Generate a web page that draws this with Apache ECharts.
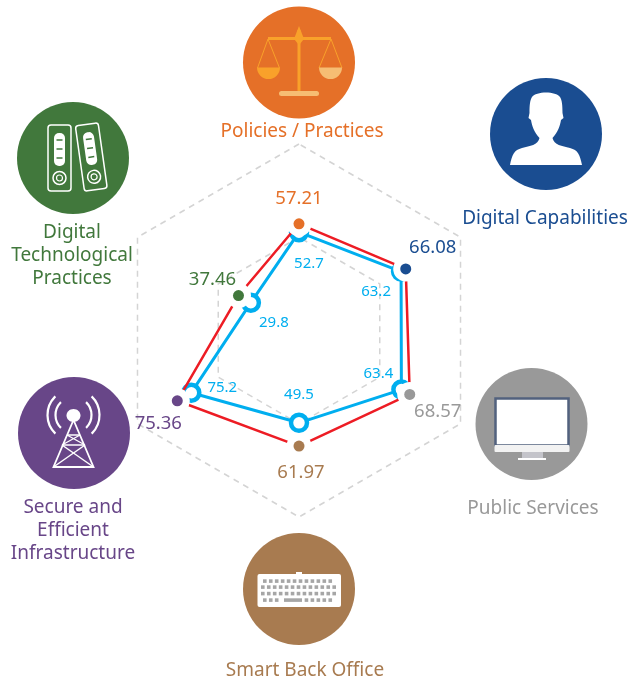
<!DOCTYPE html>
<html>
<head>
<meta charset="utf-8">
<style>
html,body{margin:0;padding:0;background:#fff}
#main{width:633px;height:677px}
</style>
<script src="https://cdn.jsdelivr.net/npm/echarts@6/dist/echarts.min.js"></script>
</head>
<body>
<div id="main"></div>
<script>
// counter clockwise from the top, the way radar lays out indicators
var categories = ['Policies / Practices', 'Digital Technological Practices', 'Secure and Efficient Infrastructure', 'Smart Back Office', 'Public Services', 'Digital Capabilities'];
var catColors = ['#e57028', '#41783c', '#684688', '#a87b50', '#999999', '#1a4d91'];
var redValues = [57.21, 37.46, 75.36, 61.97, 68.57, 66.08];
// the ring for 75.2 sits further in than its label says in the picture, so plotted value and label differ
var blueValues = [52.7, 29.8, 66.7, 49.5, 63.4, 63.2];
var blueLabels = ['52.7', '29.8', '75.2', '49.5', '63.4', '63.2'];
var redOffsets = [[0, -25], [-26, -16], [-19, 23], [2, 27], [28, 17], [27, -21]];
var blueOffsets = [[10, 32], [23, 20], [31, -5], [0, -28], [-23, -16], [-25, 20]];

var red = '#ed1c24', blue = '#00aeef';
var chartCenter = [299, 330.5], chartRadius = 186.5;

echarts.graphic.registerShape('personShape', echarts.graphic.extendPath('M510 165 C512 155 514 150 522 148 C530 146 538 145 539.5 138 C534 132 532 126 531 120 L528.5 118 L529.5 113 C529.5 105 530 100 532 97 C536 91 556 91 560 97 C562 100 562.5 105 562.5 113 L563.5 118 L561 120 C560 126 558 132 552.5 138 C554 145 562 146 570 148 C578 150 580 155 582 165 Z'));

// radar has no per vertex colour, so dots and labels go on a polar system laid over it
function polarPoint(v, i) {
    return [v, i * 360 / categories.length];
}
var haloData = redValues.map(polarPoint);
var dotData = redValues.map(function (v, i) {
    return {
        value: polarPoint(v, i),
        itemStyle: { color: catColors[i], opacity: 1 },
        label: {
            show: true, position: 'inside', offset: redOffsets[i],
            color: catColors[i], fontSize: 18.5, fontFamily: 'Noto Sans',
            formatter: function () { return v.toFixed(2); }
        }
    };
});
var blueLabelData = blueValues.map(function (v, i) {
    return {
        value: polarPoint(v, i),
        label: {
            show: true, position: 'inside', offset: blueOffsets[i],
            color: blue, fontSize: 15, fontFamily: 'Noto Sans',
            formatter: function () { return blueLabels[i]; }
        }
    };
});

function txt(lines, x, y, color) {
    return lines.map(function (s, i) {
        return { type: 'text', x: x, y: y + i * 23, z: 5, style: {
            text: s, fill: color, font: '19px "Noto Sans"', align: 'center', verticalAlign: 'middle'
        } };
    });
}
function disc(x, y, color) {
    return { type: 'circle', shape: { cx: x, cy: y, r: 56 }, style: { fill: color } };
}
function rect(x, y, w, h, fill, r) {
    return { type: 'rect', z: 3, shape: { x: x, y: y, width: w, height: h, r: r || 0 }, style: { fill: fill } };
}
function line(x1, y1, x2, y2, color, w) {
    return { type: 'line', z: 3, shape: { x1: x1, y1: y1, x2: x2, y2: y2 }, style: { stroke: color, lineWidth: w } };
}

function scaleIcon() {
    var a = '#f9a12a', b = '#f6bd73';
    return [
        line(299, 30, 299, 93, a, 3),
        line(268, 38.5, 331, 38.5, a, 3),
        { type: 'polygon', z: 3, shape: { points: [[299, 26], [304, 39], [299, 45], [294, 39]] }, style: { fill: a } },
        rect(279, 91, 40, 5, b, 2.5),
        line(268, 39, 257.5, 68, a, 1), line(268, 39, 279.5, 68, a, 1),
        line(331, 39, 319, 68, a, 1), line(331, 39, 342, 68, a, 1),
        { type: 'sector', z: 3, shape: { cx: 268.5, cy: 67.5, r: 11.5, startAngle: 0, endAngle: Math.PI }, style: { fill: a } },
        { type: 'sector', z: 3, shape: { cx: 330.5, cy: 67.5, r: 11.5, startAngle: 0, endAngle: Math.PI }, style: { fill: b } }
    ];
}
function binder(cx, cy, rot) {
    var g = '#41783c', w = '#ffffff';
    return { type: 'group', x: cx, y: cy, rotation: rot, children: [
        { type: 'rect', z: 3, shape: { x: -11.5, y: -33, width: 23, height: 66, r: 3 }, style: { fill: 'none', stroke: w, lineWidth: 1.5 } },
        rect(-5.5, -25, 11, 33, w, 5),
        line(-3, -18, 3, -18, g, 1.5), line(-3, -9, 3, -9, g, 1.5), line(-3, 0, 3, 0, g, 1.5),
        { type: 'circle', z: 3, shape: { cx: 0, cy: 20, r: 6.5 }, style: { fill: 'none', stroke: w, lineWidth: 1.5 } },
        { type: 'circle', z: 3, shape: { cx: 0, cy: 20, r: 3 }, style: { fill: 'none', stroke: w, lineWidth: 1.2 } }
    ] };
}
function towerIcon() {
    var w = '#ffffff', out = [];
    var pts = [[53.5, 467], [93.5, 467], [73.5, 420]];
    out.push({ type: 'polygon', z: 3, shape: { points: pts }, style: { fill: 'none', stroke: w, lineWidth: 1.8 } });
    out.push(line(67, 435, 80, 435, w, 1.5), line(62, 445, 85, 445, w, 1.5));
    out.push(line(67, 435, 85, 445, w, 1.3), line(80, 435, 62, 445, w, 1.3));
    out.push(line(62, 445, 93.5, 467, w, 1.5), line(85, 445, 53.5, 467, w, 1.5));
    out.push({ type: 'ellipse', z: 3, shape: { cx: 73.5, cy: 415.5, rx: 7, ry: 6.5 }, style: { fill: w } });
    [18, 26].forEach(function (r) {
        [Math.PI, 0].forEach(function (mid) {
            out.push({ type: 'arc', z: 3, shape: { cx: 73.5, cy: 415, r: r, startAngle: mid - 0.8, endAngle: mid + 0.8 }, style: { fill: 'none', stroke: w, lineWidth: 2.2 } });
        });
    });
    return out;
}
function keyboardIcon() {
    var k = '#a6a6a6', out = [rect(296, 572, 6, 3, '#fff'), rect(257.5, 574, 83.5, 33, '#fff', 2)];
    [[263, 12, 581], [261, 13, 587], [261, 13, 593.5]].forEach(function (row) {
        for (var i = 0; i < row[1]; i++) out.push(rect(row[0] + i * 5.95, row[2] - 1.7, 3.6, 3.6, k));
    });
    for (var i = 0; i < 12; i++) {
        var x = 263 + i * 5.95;
        if (x > 280 && x < 302) continue;
        out.push(rect(x, 598.3, 3.6, 3.6, k));
    }
    out.push(rect(284, 598.3, 18, 3.6, k));
    return out;
}
function personIcon() {
    return [{ type: 'personShape', z: 3, style: { fill: '#fff' } }];
}
function monitorIcon() {
    return [
        { type: 'rect', z: 3, shape: { x: 495.5, y: 398.5, width: 73, height: 47 }, style: { fill: '#fff', stroke: '#52617e', lineWidth: 2.5 } },
        rect(494.5, 445, 75, 7, '#f2f2f2', 1),
        rect(522, 452, 21, 6, '#c4c4ca'),
        rect(518, 458, 28, 2, '#fff')
    ];
}

var graphicEls = [
    disc(299, 62.5, catColors[0]), disc(73, 158, catColors[1]), disc(74, 433, catColors[2]),
    disc(299, 589, catColors[3]), disc(531.5, 424, catColors[4]), disc(546, 134, catColors[5])
].concat(scaleIcon(), [binder(59.5, 158, 0), binder(91.3, 157, 0.14)], towerIcon(), keyboardIcon(), personIcon(), monitorIcon(),
    txt(['Policies / Practices'], 302, 132, catColors[0]),
    txt(['Digital', 'Technological', 'Practices'], 72, 233, catColors[1]),
    txt(['Secure and', 'Efficient', 'Infrastructure'], 73, 508, catColors[2]),
    txt(['Smart Back Office'], 305, 671, catColors[3]),
    txt(['Public Services'], 533, 509, catColors[4]),
    txt(['Digital Capabilities'], 545, 219, catColors[5])
);

var option = {
    animation: false,
    radar: {
        center: chartCenter,
        radius: chartRadius,
        startAngle: 90,
        splitNumber: 2,
        shape: 'polygon',
        indicator: categories.map(function (c) { return { name: c, min: 0, max: 100 }; }),
        axisName: { show: false },
        axisLine: { show: false },
        axisTick: { show: false },
        axisLabel: { show: false },
        splitArea: { show: false },
        splitLine: { lineStyle: { color: '#d4d4d4', width: 1.5, type: [6, 5] } }
    },
    polar: { center: chartCenter, radius: chartRadius },
    radiusAxis: { min: 0, max: 100, axisLine: { show: false }, axisTick: { show: false }, axisLabel: { show: false }, splitLine: { show: false } },
    angleAxis: { type: 'value', min: 0, max: 360, startAngle: 90, clockwise: false, axisLine: { show: false }, axisTick: { show: false }, axisLabel: { show: false }, splitLine: { show: false } },
    graphic: graphicEls,
    series: [
        {
            type: 'radar', z: 2, symbol: 'circle', symbolSize: 16,
            lineStyle: { color: blue, width: 3 },
            itemStyle: { color: '#fff', borderColor: blue, borderWidth: 4.5 },
            data: [{ value: blueValues }]
        },
        {
            type: 'radar', z: 3, symbol: 'none',
            lineStyle: { color: red, width: 2.5 },
            data: [{ value: redValues }]
        },
        {
            type: 'scatter', coordinateSystem: 'polar', z: 4, symbolSize: 25,
            itemStyle: { color: '#fff', opacity: 1 },
            data: haloData
        },
        {
            type: 'scatter', coordinateSystem: 'polar', z: 5, symbolSize: 11,
            itemStyle: { opacity: 1 },
            data: dotData
        },
        {
            type: 'scatter', coordinateSystem: 'polar', z: 6, symbolSize: 1,
            itemStyle: { color: 'transparent', opacity: 1 },
            data: blueLabelData
        }
    ]
};
var myChart = echarts.init(document.getElementById('main'));
myChart.setOption(option);
</script>
</body>
</html>
